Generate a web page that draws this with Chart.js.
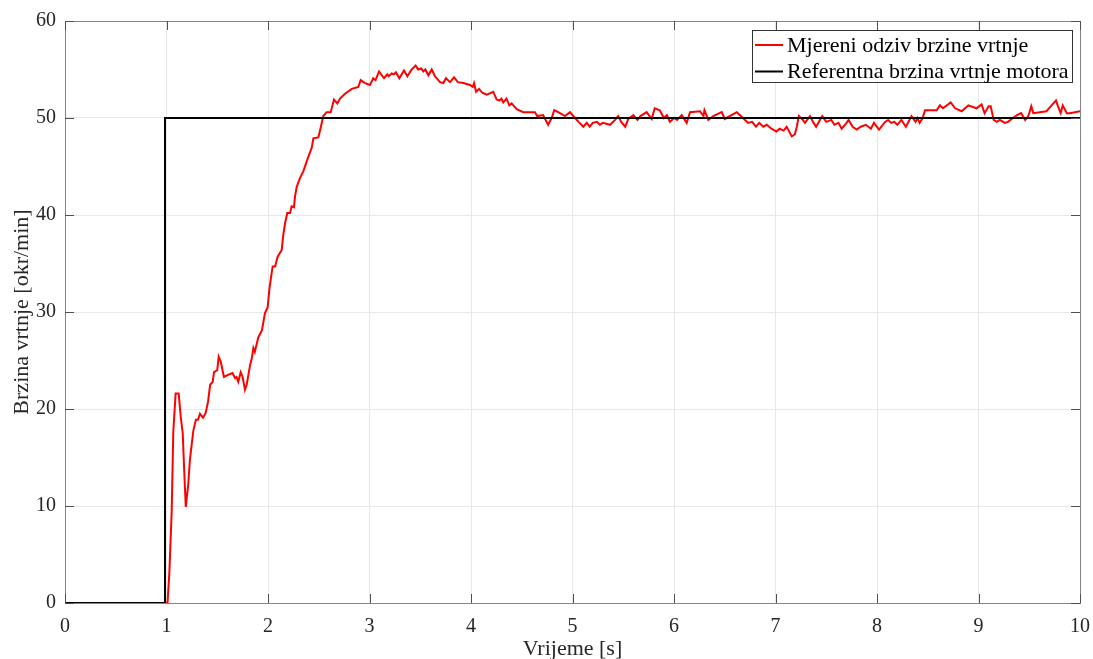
<!DOCTYPE html>
<html>
<head>
<meta charset="utf-8">
<script src="https://cdn.jsdelivr.net/npm/chart.js@4.4.1/dist/chart.umd.min.js"></script>
<style>
  body { margin: 0; background: #fff; }
  #wrap { width: 1093px; height: 659px; }
</style>
</head>
<body>
<div id="wrap"><canvas id="speedChart" width="1093" height="659"></canvas></div>
<script>
// --- podaci ---
const xTicks = [0, 1, 2, 3, 4, 5, 6, 7, 8, 9, 10];
const yTicks = [0, 10, 20, 30, 40, 50, 60];

const refLabel = 'Referentna brzina vrtnje motora';
const refTime  = [0, 0.985, 0.985, 10];
const refSpeed = [0, 0, 50, 50];

const measLabel = 'Mjereni odziv brzine vrtnje';
const measTime = [
  0, 1.01, 1.028, 1.051, 1.067, 1.09, 1.12, 1.14, 1.16, 1.175, 1.19, 1.215, 1.23, 1.25, 1.265, 1.29, 1.31, 1.33, 1.36, 1.386,
  1.41, 1.43, 1.455, 1.468, 1.5, 1.514, 1.534, 1.566, 1.6, 1.65, 1.675, 1.69, 1.707, 1.731, 1.75, 1.773, 1.79, 1.823, 1.84, 1.856,
  1.87, 1.905, 1.94, 1.97, 1.997, 2.013, 2.03, 2.046, 2.07, 2.095, 2.135, 2.15, 2.167, 2.19, 2.217, 2.233, 2.256, 2.266, 2.283, 2.315,
  2.348, 2.374, 2.397, 2.43, 2.447, 2.496, 2.519, 2.545, 2.578, 2.618, 2.65, 2.683, 2.709, 2.759, 2.825, 2.89, 2.913, 2.956, 3.005, 3.037,
  3.06, 3.094, 3.143, 3.176, 3.19, 3.219, 3.24, 3.261, 3.294, 3.34, 3.373, 3.416, 3.455, 3.48, 3.51, 3.53, 3.55, 3.58, 3.613, 3.645,
  3.695, 3.727, 3.754, 3.793, 3.833, 3.87, 3.924, 3.99, 4.017, 4.03, 4.05, 4.08, 4.11, 4.155, 4.22, 4.253, 4.28, 4.3, 4.318, 4.35,
  4.378, 4.4, 4.45, 4.515, 4.63, 4.653, 4.71, 4.76, 4.795, 4.82, 4.86, 4.926, 4.975, 5.025, 5.06, 5.107, 5.14, 5.17, 5.2, 5.24,
  5.27, 5.3, 5.37, 5.42, 5.45, 5.48, 5.52, 5.55, 5.6, 5.64, 5.67, 5.73, 5.78, 5.81, 5.86, 5.9, 5.93, 5.96, 6.0, 6.03,
  6.076, 6.125, 6.158, 6.256, 6.29, 6.3, 6.338, 6.387, 6.47, 6.5, 6.618, 6.68, 6.73, 6.77, 6.808, 6.84, 6.88, 6.913, 6.96, 7.01,
  7.04, 7.08, 7.11, 7.13, 7.16, 7.19, 7.21, 7.23, 7.27, 7.29, 7.34, 7.37, 7.4, 7.46, 7.5, 7.55, 7.58, 7.62, 7.652, 7.7,
  7.72, 7.76, 7.8, 7.84, 7.89, 7.94, 7.97, 8.02, 8.08, 8.11, 8.14, 8.17, 8.2, 8.24, 8.285, 8.34, 8.38, 8.4, 8.42, 8.45,
  8.473, 8.588, 8.62, 8.65, 8.726, 8.77, 8.834, 8.9, 8.98, 9.03, 9.06, 9.1, 9.12, 9.15, 9.18, 9.21, 9.26, 9.29, 9.34, 9.38,
  9.42, 9.46, 9.49, 9.5, 9.52, 9.54, 9.67, 9.72, 9.764, 9.78, 9.81, 9.83, 9.87, 9.9, 10
];
const measSpeed = [
  0, 0, 3.1, 9.4, 17.7, 21.6, 21.6, 19.2, 17.5, 13.5, 9.9, 12.3, 14.7, 16.5, 17.8, 18.9, 18.9, 19.5, 19.1, 19.6,
  20.8, 22.5, 22.8, 23.8, 24.0, 25.4, 24.9, 23.3, 23.5, 23.7, 23.2, 23.3, 22.8, 23.8, 23.3, 22.0, 22.5, 24.5, 25.2, 26.3,
  25.9, 27.4, 28.1, 29.9, 30.5, 32.3, 33.6, 34.7, 34.7, 35.7, 36.4, 37.9, 39.1, 40.2, 40.2, 40.9, 40.8, 41.9, 42.9, 43.8,
  44.5, 45.3, 46.0, 46.9, 47.9, 48.0, 49.0, 50.2, 50.6, 50.6, 51.9, 51.5, 52.0, 52.5, 53.0, 53.2, 53.9, 53.6, 53.4, 54.1,
  53.9, 54.8, 54.1, 54.5, 54.3, 54.6, 54.5, 54.7, 54.1, 54.9, 54.3, 55.0, 55.4, 55.0, 55.1, 54.8, 55.0, 54.4, 55.0, 54.3,
  53.7, 53.6, 54.1, 53.7, 54.2, 53.7, 53.6, 53.4, 53.2, 53.6, 52.7, 53.0, 52.6, 52.4, 52.7, 51.9, 51.8, 52.0, 51.6, 52.0,
  51.3, 51.5, 50.9, 50.6, 50.6, 50.2, 50.3, 49.3, 50.0, 50.8, 50.6, 50.2, 50.6, 50.0, 49.6, 49.1, 49.5, 49.1, 49.5, 49.6,
  49.3, 49.5, 49.3, 49.8, 50.2, 49.6, 49.1, 49.9, 50.3, 49.8, 50.2, 50.6, 49.9, 51.0, 50.8, 50.0, 50.3, 49.6, 50.0, 49.8,
  50.3, 49.5, 50.6, 50.7, 50.2, 50.8, 49.8, 50.2, 50.6, 49.9, 50.6, 50.0, 49.5, 49.6, 49.1, 49.5, 49.1, 49.3, 48.9, 48.6,
  48.9, 48.7, 49.1, 48.7, 48.1, 48.3, 49.1, 50.2, 49.8, 49.5, 50.2, 49.6, 49.1, 50.2, 49.6, 49.8, 49.3, 49.5, 48.9, 49.5,
  49.8, 49.1, 48.8, 49.1, 49.3, 48.9, 49.5, 48.8, 49.6, 49.8, 49.5, 49.6, 49.3, 49.8, 49.1, 50.2, 49.6, 50.0, 49.5, 50.0,
  50.8, 50.8, 51.3, 51.0, 51.6, 51.0, 50.7, 51.3, 51.0, 51.4, 50.5, 51.2, 51.2, 49.8, 49.6, 49.8, 49.5, 49.6, 50.0, 50.3,
  50.5, 49.8, 50.2, 50.5, 51.2, 50.5, 50.7, 51.3, 51.8, 51.3, 50.5, 51.3, 50.5, 50.5, 50.7
];

const FONT = "'Liberation Serif', 'Times New Roman', serif";
const AXIS_COLOR = '#858585';
const TICK_COLOR = '#505050';

const toPoints = (xs, ys) => xs.map((x, i) => ({ x: x, y: ys[i] }));

// matlab-style okvir, unutarnje crtice i legenda
const boxPlugin = {
  id: 'boxPlugin',
  afterDraw(chart) {
    const { ctx, chartArea: a, scales } = chart;
    ctx.save();
    ctx.lineWidth = 1;
    ctx.strokeStyle = AXIS_COLOR;
    ctx.strokeRect(Math.round(a.left) + 0.5, Math.round(a.top) + 0.5,
                   Math.round(a.right - a.left), Math.round(a.bottom - a.top));
    ctx.strokeStyle = TICK_COLOR;
    ctx.beginPath();
    const tl = 9;
    xTicks.forEach(v => {
      const px = Math.round(scales.x.getPixelForValue(v)) + 0.5;
      ctx.moveTo(px, a.bottom); ctx.lineTo(px, a.bottom - tl);
      ctx.moveTo(px, a.top); ctx.lineTo(px, a.top + tl);
    });
    yTicks.forEach(v => {
      const py = Math.round(scales.y.getPixelForValue(v)) + 0.5;
      ctx.moveTo(a.left, py); ctx.lineTo(a.left + tl, py);
      ctx.moveTo(a.right, py); ctx.lineTo(a.right - tl, py);
    });
    ctx.stroke();

    // legenda
    const lx = 752, ly = 30, lw = 320, lh = 52;
    ctx.fillStyle = '#fff';
    ctx.fillRect(lx, ly, lw, lh);
    ctx.strokeStyle = '#333';
    ctx.strokeRect(lx + 0.5, ly + 0.5, lw, lh);
    const items = [chart.data.datasets[0], chart.data.datasets[1]];
    ctx.font = '22px ' + FONT;
    ctx.textBaseline = 'middle';
    items.forEach((ds, i) => {
      const y = ly + 15 + i * 26.5;
      ctx.strokeStyle = ds.borderColor;
      ctx.lineWidth = 2;
      ctx.beginPath();
      ctx.moveTo(lx + 3, y); ctx.lineTo(lx + 31, y);
      ctx.stroke();
      ctx.fillStyle = '#000';
      ctx.fillText(ds.label, lx + 35, y + 1);
    });
    ctx.restore();
  }
};

new Chart(document.getElementById('speedChart'), {
  type: 'line',
  data: {
    datasets: [
      {
        label: measLabel,
        data: toPoints(measTime, measSpeed),
        borderColor: '#ff0000',
        borderWidth: 2,
        pointRadius: 0,
        tension: 0,
        order: 2
      },
      {
        label: refLabel,
        data: toPoints(refTime, refSpeed),
        borderColor: '#000000',
        borderWidth: 2,
        pointRadius: 0,
        tension: 0,
        order: 1
      }
    ]
  },
  options: {
    responsive: false,
    animation: false,
    layout: { padding: { top: 21, right: 13, left: 0, bottom: 0 } },
    plugins: {
      legend: { display: false },
      tooltip: { enabled: false }
    },
    scales: {
      x: {
        type: 'linear',
        min: 0, max: 10,
        afterFit: s => { s.height = 56; s.paddingRight = 0; s.paddingLeft = 0; },
        afterBuildTicks: s => { s.ticks = xTicks.map(v => ({ value: v })); },
        grid: { color: '#e8e8e8', drawTicks: false },
        border: { color: AXIS_COLOR },
        ticks: { color: '#262626', padding: 12, font: { family: FONT, size: 20 } },
        title: {
          display: true, text: 'Vrijeme [s]', color: '#262626',
          padding: { top: 0, bottom: 0 },
          font: { family: FONT, size: 22, lineHeight: 0.9 }
        }
      },
      y: {
        min: 0, max: 60,
        afterFit: s => { s.width = 65; s.paddingTop = 0; s.paddingBottom = 0; },
        afterBuildTicks: s => { s.ticks = yTicks.map(v => ({ value: v })); },
        grid: { color: '#e8e8e8', drawTicks: false },
        border: { color: AXIS_COLOR },
        ticks: { color: '#262626', padding: 9, font: { family: FONT, size: 20 } },
        title: {
          display: true, text: 'Brzina vrtnje [okr/min]', color: '#262626',
          padding: { top: 9, bottom: 0 },
          font: { family: FONT, size: 22 }
        }
      }
    }
  },
  plugins: [boxPlugin]
});
</script>
</body>
</html>
